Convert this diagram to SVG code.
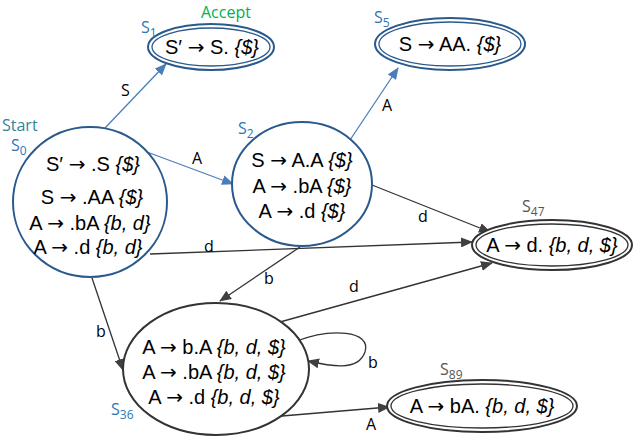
<svg xmlns="http://www.w3.org/2000/svg" width="640" height="440" viewBox="0 0 640 440">
<style>
.st{fill:#fff;stroke:#2a5a8c;stroke-width:2}
.sg{fill:#fff;stroke:#333;stroke-width:2}
.dbl{fill:none;stroke-width:1.3}
.it{font-family:"Liberation Sans",Arial,sans-serif;font-size:20px;fill:#000;text-anchor:middle}
.i{font-style:italic}
.ar{font-family:"DejaVu Sans",sans-serif;font-size:20px}
.lb{font-family:"Open Sans","Liberation Sans",sans-serif;font-size:16px;fill:#000}
.nm{font-family:"Open Sans","Liberation Sans",sans-serif;font-size:16px;fill:#2e75b6}
.ng{font-family:"Open Sans","Liberation Sans",sans-serif;font-size:16px;fill:#555}
.eb{fill:none;stroke:#4a7ebb;stroke-width:1.3}
.eg{fill:none;stroke:#333;stroke-width:1.3}
</style>
<defs>
<marker id="ab" markerWidth="12" markerHeight="10" refX="11" refY="5" orient="auto" markerUnits="userSpaceOnUse"><path d="M0,0 L12,5 L0,10 Z" fill="#4a7ebb"/></marker>
<marker id="ag" markerWidth="12" markerHeight="10" refX="11" refY="5" orient="auto" markerUnits="userSpaceOnUse"><path d="M0,0 L12,5 L0,10 Z" fill="#404040"/></marker>
</defs>
<g id="connectors">
<path class="eb" d="M105,128 L166,64" marker-end="url(#ab)"/>
<text class="lb" x="121" y="96">S</text>
<path class="eb" d="M147,152 L233,184" marker-end="url(#ab)"/>
<text class="lb" x="192" y="164">A</text>
<path class="eb" d="M350,140 L398,68" marker-end="url(#ab)"/>
<text class="lb" x="382" y="111">A</text>
<path class="eg" d="M372,185 L490,232" marker-end="url(#ag)"/>
<text class="lb" x="418" y="222">d</text>
<path class="eg" d="M150,254 L472,242" marker-end="url(#ag)"/>
<text class="lb" x="204" y="252">d</text>
<path class="eg" d="M300,247 L220,301" marker-end="url(#ag)"/>
<text class="lb" x="264" y="284">b</text>
<path class="eg" d="M92,278 L123,370" marker-end="url(#ag)"/>
<text class="lb" x="96" y="337">b</text>
<path class="eg" d="M280,322 L492,263" marker-end="url(#ag)"/>
<text class="lb" x="349" y="292">d</text>
<path class="eg" d="M297,341 C330,328 372,330 365,352 C358,372 330,366 308,361" marker-end="url(#ag)"/>
<text class="lb" x="368" y="368">b</text>
<path class="eg" d="M282,416 L389,407" marker-end="url(#ag)"/>
<text class="lb" x="366" y="430">A</text>
</g>
<g id="S0">
<ellipse class="st" cx="90" cy="202" rx="77" ry="75"/>
<text class="it" x="93" y="171">S′ <tspan class="ar">→</tspan> .S <tspan class="i">{$}</tspan></text>
<text class="it" x="92" y="204">S <tspan class="ar">→</tspan> .AA <tspan class="i">{$}</tspan></text>
<text class="it" x="90" y="230">A <tspan class="ar">→</tspan> .bA <tspan class="i">{b, d}</tspan></text>
<text class="it" x="88" y="254">A <tspan class="ar">→</tspan> .d <tspan class="i">{b, d}</tspan></text>
<text x="2" y="131" font-family="'Open Sans','Liberation Sans',sans-serif" font-size="16" fill="#31849b">Start</text>
<text class="nm" x="11" y="151">S<tspan font-size="12" dy="4">0</tspan></text>
</g>
<g id="S1">
<ellipse class="st" cx="211" cy="47" rx="63" ry="23"/>
<ellipse class="dbl" stroke="#2a5a8c" cx="211" cy="47" rx="59" ry="19"/>
<text class="it" x="212" y="54">S′ <tspan class="ar">→</tspan> S. <tspan class="i">{$}</tspan></text>
<text x="201" y="18" font-family="'Open Sans','Liberation Sans',sans-serif" font-size="16" fill="#00b050">Accept</text>
<text class="nm" x="141" y="33">S<tspan font-size="12" dy="4">1</tspan></text>
</g>
<g id="S5">
<ellipse class="st" cx="450" cy="44" rx="75" ry="26"/>
<ellipse class="dbl" stroke="#2a5a8c" cx="450" cy="44" rx="71" ry="22"/>
<text class="it" x="450" y="51">S <tspan class="ar">→</tspan> AA. <tspan class="i">{$}</tspan></text>
<text class="nm" x="374" y="23">S<tspan font-size="12" dy="4">5</tspan></text>
</g>
<g id="S2">
<ellipse class="st" cx="302" cy="184" rx="70" ry="62"/>
<text class="it" x="302" y="167">S <tspan class="ar">→</tspan> A.A <tspan class="i">{$}</tspan></text>
<text class="it" x="302" y="193">A <tspan class="ar">→</tspan> .bA <tspan class="i">{$}</tspan></text>
<text class="it" x="302" y="218">A <tspan class="ar">→</tspan> .d <tspan class="i">{$}</tspan></text>
<text class="nm" x="238" y="134">S<tspan font-size="12" dy="4">2</tspan></text>
</g>
<g id="S47">
<ellipse class="sg" cx="552" cy="245" rx="80" ry="25"/>
<ellipse class="dbl" stroke="#333" cx="552" cy="245" rx="76" ry="21"/>
<text class="it" x="552" y="252">A <tspan class="ar">→</tspan> d. <tspan class="i">{b, d, $}</tspan></text>
<text class="ng" x="522" y="212">S<tspan font-size="12" dy="4">47</tspan></text>
</g>
<g id="S36">
<ellipse class="sg" cx="216" cy="369" rx="93" ry="66"/>
<text class="it" x="214" y="354">A <tspan class="ar">→</tspan> b.A <tspan class="i">{b, d, $}</tspan></text>
<text class="it" x="214" y="379">A <tspan class="ar">→</tspan> .bA <tspan class="i">{b, d, $}</tspan></text>
<text class="it" x="214" y="404">A <tspan class="ar">→</tspan> .d <tspan class="i">{b, d, $}</tspan></text>
<text class="nm" x="111" y="415">S<tspan font-size="12" dy="4">36</tspan></text>
</g>
<g id="S89">
<ellipse class="sg" cx="482" cy="406" rx="95" ry="26"/>
<ellipse class="dbl" stroke="#333" cx="482" cy="406" rx="91" ry="22"/>
<text class="it" x="482" y="413">A <tspan class="ar">→</tspan> bA. <tspan class="i">{b, d, $}</tspan></text>
<text class="ng" x="440" y="375">S<tspan font-size="12" dy="4">89</tspan></text>
</g>
</svg>
